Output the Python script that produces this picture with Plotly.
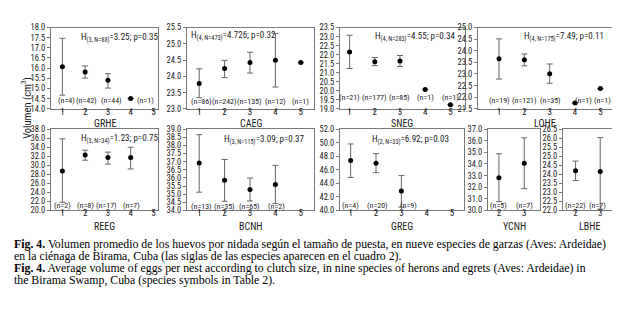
import plotly.graph_objects as go

# ---------------- data ----------------
species = ["GRHE", "CAEG", "SNEG", "LOHE", "REEG", "BCNH", "GREG", "YCNH", "LBHE"]

grhe_x = [1, 2, 3, 4]
grhe_mean = [16.07, 15.81, 15.40, 14.51]
grhe_hi = [17.47, 16.11, 15.73, None]
grhe_lo = [14.67, 15.51, 15.02, None]
grhe_n = ["(n=4)", "(n=42)", "(n=44)", "(n=1)"]
grhe_h = "H<sub>(3, N=88)</sub>=3.25; p=0.35"

caeg_x = [1, 2, 3, 4, 5]
caeg_mean = [23.78, 24.24, 24.42, 24.49, 24.42]
caeg_hi = [24.23, 24.49, 24.74, 25.32, None]
caeg_lo = [23.34, 23.96, 24.10, 23.67, None]
caeg_n = ["(n=86)", "(n=242)", "(n=135)", "(n=12)", "(n=1)"]
caeg_h = "H<sub>(4, N=473)</sub>=4.726; p=0.32"

sneg_x = [1, 2, 3, 4, 5]
sneg_mean = [22.14, 21.61, 21.64, 20.07, 19.23]
sneg_hi = [23.07, 21.84, 21.95, None, None]
sneg_lo = [21.23, 21.39, 21.34, None, None]
sneg_n = ["(n=21)", "(n=177)", "(n=85)", "(n=1)", "(n=1)"]
sneg_h = "H<sub>(4, N=283)</sub>=4.55; p=0.34"

lohe_x = [1, 2, 3, 4, 5]
lohe_mean = [23.65, 23.61, 23.01, 21.75, 22.37]
lohe_hi = [24.51, 23.86, 23.43, None, None]
lohe_lo = [22.78, 23.35, 22.60, None, None]
lohe_n = ["(n=19)", "(n=121)", "(n=35)", "(n=1)", "(n=1)"]
lohe_h = "H<sub>(4, N=175)</sub>=7.49; p=0.11"

reeg_x = [1, 2, 3, 4]
reeg_mean = [28.75, 32.26, 31.69, 31.69]
reeg_hi = [35.85, 33.34, 32.91, 33.98]
reeg_lo = [21.79, 31.11, 30.25, 29.18]
reeg_n = ["(n=2)", "(n=8)", "(n=17)", "(n=7)"]
reeg_h = "H<sub>(3, N=34)</sub>=1.23; p=0.75"

bcnh_x = [1, 2, 3, 4]
bcnh_mean = [36.91, 35.85, 35.29, 35.59]
bcnh_hi = [38.66, 37.13, 35.99, 36.77]
bcnh_lo = [35.12, 34.56, 34.58, 34.42]
bcnh_n = ["(n=13)", "(n=35)", "(n=65)", "(n=2)"]
bcnh_h = "H<sub>(3, N=115)</sub>=3.09; p=0.37"

greg_x = [1, 2, 3]
greg_mean = [47.38, 46.95, 42.86]
greg_hi = [49.81, 48.38, 45.14]
greg_lo = [44.86, 45.57, 40.48]
greg_n = ["(n=4)", "(n=20)", "(n=9)"]
greg_h = "H<sub>(2, N=33)</sub>=6.92; p=0.03"

ycnh_x = [2, 3]
ycnh_mean = [32.82, 34.07]
ycnh_hi = [34.88, 36.25]
ycnh_lo = [30.75, 31.87]
ycnh_n = ["(n=5)", "(n=7)"]

lbhe_x = [2, 3]
lbhe_mean = [24.19, 24.15]
lbhe_hi = [24.73, 26.03]
lbhe_lo = [23.65, 22.07]
lbhe_n = ["(n=22)", "(n=7)"]

y_title = "Volumen (cm<sup>3</sup>)"
caption = [
    "<b>Fig. 4.</b> Volumen promedio de los huevos por nidada según el tamaño de puesta, en nueve especies de garzas (Aves: Ardeidae)",
    "en la ciénaga de Birama, Cuba (las siglas de las especies aparecen en el cuadro 2).",
    "<b>Fig. 4.</b> Average volume of eggs per nest according to clutch size, in nine species of herons and egrets (Aves: Ardeidae) in",
    "the Birama Swamp, Cuba (species symbols in Table 2).",
]

panels = [
    dict(x=grhe_x, m=grhe_mean, hi=grhe_hi, lo=grhe_lo, n=grhe_n, h=grhe_h),
    dict(x=caeg_x, m=caeg_mean, hi=caeg_hi, lo=caeg_lo, n=caeg_n, h=caeg_h),
    dict(x=sneg_x, m=sneg_mean, hi=sneg_hi, lo=sneg_lo, n=sneg_n, h=sneg_h),
    dict(x=lohe_x, m=lohe_mean, hi=lohe_hi, lo=lohe_lo, n=lohe_n, h=lohe_h),
    dict(x=reeg_x, m=reeg_mean, hi=reeg_hi, lo=reeg_lo, n=reeg_n, h=reeg_h),
    dict(x=bcnh_x, m=bcnh_mean, hi=bcnh_hi, lo=bcnh_lo, n=bcnh_n, h=bcnh_h),
    dict(x=greg_x, m=greg_mean, hi=greg_hi, lo=greg_lo, n=greg_n, h=greg_h),
    dict(x=ycnh_x, m=ycnh_mean, hi=ycnh_hi, lo=ycnh_lo, n=ycnh_n, h=None),
    dict(x=lbhe_x, m=lbhe_mean, hi=lbhe_hi, lo=lbhe_lo, n=lbhe_n, h=None),
]

# ---------------- layout / style (pixels) ----------------
W, H = 620, 309
px_x = [(43, 150), (179, 306), (332, 457), (470, 604),
        (43, 150), (179, 306), (332, 456), (480, 532), (555, 608)]
px_y = [(15, 99)] * 4 + [(120, 204)] * 5
xranges = [[0.5, 5.2], [0.52, 5.52], [0.62, 5.58], [0.17, 5.46],
           [0.5, 5.2], [0.52, 5.52], [0.58, 5.47], [1.57, 3.62], [1.49, 3.64]]
yranges = [[14, 18], [23, 25.5], [19, 23.5], [21.5, 25],
           [20, 38], [34, 39], [40, 52], [30, 37], [22, 26.5]]
ydt = [0.5, 0.5, 0.5, 0.5, 2, 0.5, 2, 1, 0.5]
n_xpos = [[1.2, 2.05, 3.15, 4.65], [1.1, 2, 3, 4, 5], [1, 2, 3, 4, 5.0],
          [1, 2, 3.05, 4.33, 5.08], [1, 2, 2.95, 4.05], [1.1, 2, 3, 4.05],
          [1, 2.05, 3.3], [2, 3], [2, 2.9]]
n_yoff = [9, 7.5, 11.5, 8.5, 5, 4.5, 5, 5, 5]
name_off = [15, 15, 15, 15, 17, 17, 17, 17, 17]
h_pos = [(152, 26, "right"), (181, 23.5, "left"), (450, 25, "right"), (598, 25, "right"),
         (152, 130, "right"), (299, 131, "right"), (443, 131, "right")]

FONT = "Liberation Sans Narrow, Arial Narrow, Roboto Condensed, Liberation Sans, sans-serif"
SERIF = "Liberation Serif, Times New Roman, serif"
FRAME = "#7a7a7a"

fig = go.Figure()
layout = dict(
    width=W, height=H, margin=dict(l=0, r=0, t=0, b=0),
    paper_bgcolor="white", plot_bgcolor="white", showlegend=False,
    font=dict(family=FONT, size=9, color="#222"),
)
annotations = []

for i, p in enumerate(panels):
    k = "" if i == 0 else str(i + 1)
    xa, ya = "xaxis" + k, "yaxis" + k
    xr, yr = "x" + k, "y" + k
    x0, x1 = px_x[i]
    y0, y1 = px_y[i]
    layout[xa] = dict(domain=[x0 / W, x1 / W], range=xranges[i], anchor=yr,
                      tickvals=p["x"] if i >= 7 else [1, 2, 3, 4, 5],
                      showgrid=False, zeroline=False, showline=True, mirror=True,
                      linecolor=FRAME, linewidth=1, ticks="outside", ticklen=2,
                      ticklabelstandoff=-8,
                      tickcolor=FRAME, tickfont=dict(size=9, color="#222"))
    layout[ya] = dict(domain=[1 - y1 / H, 1 - y0 / H], range=yranges[i], anchor=xr,
                      dtick=ydt[i], tick0=0, tickformat=".1f",
                      showgrid=False, zeroline=False, showline=True, mirror=True,
                      linecolor=FRAME, linewidth=1, ticks="outside", ticklen=3,
                      tickcolor=FRAME, tickfont=dict(size=8.5, color="#222"))
    up = [(h - m) if h is not None else 0 for h, m in zip(p["hi"], p["m"])]
    dn = [(m - l) if l is not None else 0 for l, m in zip(p["lo"], p["m"])]
    fig.add_trace(go.Scatter(
        x=p["x"], y=p["m"], xaxis=xr, yaxis=yr, mode="markers",
        marker=dict(color="black", size=5),
        error_y=dict(type="data", symmetric=False, array=up, arrayminus=dn,
                     color="#666", thickness=1, width=3, visible=True),
        cliponaxis=False,
    ))
    # n labels
    for t, xp in zip(p["n"], n_xpos[i]):
        annotations.append(dict(x=xp, xref=xr, y=(n_yoff[i]) / (y1 - y0), yref=yr + " domain",
                                text=t, showarrow=False, xanchor="center", yanchor="middle",
                                font=dict(size=8, family=FONT, color="#222")))
    # species name below
    annotations.append(dict(x=(x0 + x1) / 2 / W, xref="paper", y=1 - (y1 + name_off[i]) / H,
                            yref="paper", text=species[i], showarrow=False,
                            xanchor="center", yanchor="middle",
                            font=dict(size=10, family=FONT, color="#222")))
    if p["h"]:
        hx, hy, anc = h_pos[i]
        annotations.append(dict(x=hx / W, xref="paper", y=1 - hy / H, yref="paper",
                                text=p["h"], showarrow=False, xanchor=anc, yanchor="middle",
                                font=dict(size=9, family=FONT, color="#222")))

# y axis title
annotations.append(dict(x=18 / W, xref="paper", y=1 - 98 / H, yref="paper", text=y_title,
                        textangle=-90, showarrow=False, xanchor="center", yanchor="middle",
                        font=dict(size=10.5, family=FONT, color="#222")))
# caption
cap_y = [238.5, 251, 263.5, 276]
for t, cy in zip(caption, cap_y):
    annotations.append(dict(x=4 / W, xref="paper", y=1 - cy / H, yref="paper", text=t,
                            showarrow=False, xanchor="left", yanchor="middle",
                            font=dict(size=11.8, family=SERIF, color="black")))

layout["annotations"] = annotations
fig.update_layout(**layout)
fig.write_html("out.html")
